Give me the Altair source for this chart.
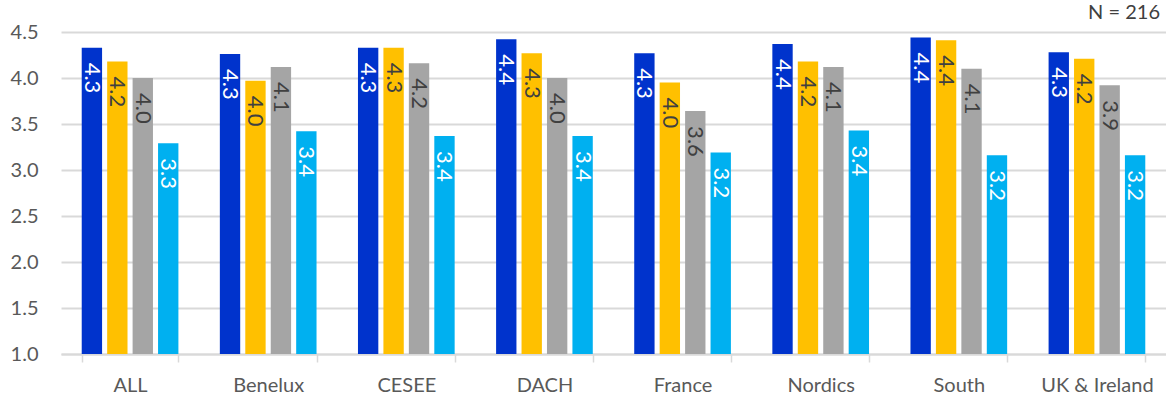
import altair as alt
import pandas as pd

categories = ["ALL", "Benelux", "CESEE", "DACH", "France", "Nordics", "South", "UK & Ireland"]
series = ["S1", "S2", "S3", "S4"]
s1 = [4.33, 4.26, 4.33, 4.42, 4.27, 4.37, 4.44, 4.28]
s2 = [4.18, 3.97, 4.33, 4.27, 3.95, 4.18, 4.41, 4.21]
s3 = [4.00, 4.12, 4.16, 4.00, 3.64, 4.12, 4.10, 3.92]
s4 = [3.29, 3.42, 3.37, 3.37, 3.19, 3.43, 3.16, 3.16]
colors = ["#0033CC", "#FFC000", "#A5A5A5", "#00B0F0"]
label_colors = ["#FFFFFF", "#404040", "#404040", "#FFFFFF"]
y_ticks = [1.0, 1.5, 2.0, 2.5, 3.0, 3.5, 4.0, 4.5]
y_min = 1.0
note = "N = 216"

rows = []
for s, vals, lc in zip(series, [s1, s2, s3, s4], label_colors):
    for c, v in zip(categories, vals):
        rows.append({"cat": c, "series": s, "value": v,
                     "label": f"{v:.1f}", "lc": lc})
df = pd.DataFrame(rows)

FONT = "Lato"

x = alt.X("cat:N", sort=categories, title=None,
          scale=alt.Scale(paddingInner=0.3, paddingOuter=0.15),
          axis=alt.Axis(labelAngle=0, labelFontSize=20, labelColor="#595959",
                        labelFont=FONT, domainColor="#D9D9D9", domainWidth=2,
                        tickColor="#D9D9D9", tickWidth=1.5, tickSize=8, tickBand="extent",
                        labelPadding=13, grid=False))
y = alt.Y("value:Q", title=None,
          scale=alt.Scale(domain=[1, 4.5], nice=False, zero=False),
          axis=alt.Axis(values=y_ticks, format=".1f", labelFontSize=20,
                        labelColor="#595959", labelFont=FONT, domain=False, ticks=False,
                        labelPadding=23, gridColor="#D9D9D9", gridWidth=2))
xo = alt.XOffset("series:N", sort=series,
                 scale=alt.Scale(paddingInner=0.2, paddingOuter=0))

base = alt.Chart(df).encode(x=x, xOffset=xo)

bars = base.mark_bar().encode(
    y=y,
    y2=alt.datum(y_min),
    color=alt.Color("series:N", sort=series,
                    scale=alt.Scale(domain=series, range=colors), legend=None),
)

labels = base.mark_text(angle=90, align="left", baseline="middle", dx=15,
                        fontSize=22, font=FONT).encode(
    y=alt.Y("value:Q"),
    text="label:N",
    color=alt.Color("lc:N", scale=None),
)

note_df = pd.DataFrame({"t": [note]})
note_mark = alt.Chart(note_df).mark_text(align="right", baseline="middle",
                                         fontSize=20, font=FONT, color="#404040").encode(
    text="t:N", x=alt.value(1099), y=alt.value(-19))

chart = alt.layer(bars, labels, note_mark).properties(
    width=1105, height=322,
    padding={"left": 61, "top": 32, "right": 0, "bottom": 45},
    autosize="none",
).configure_view(stroke=None)

chart.save("out.html", embed_options={"renderer": "svg", "actions": False})
